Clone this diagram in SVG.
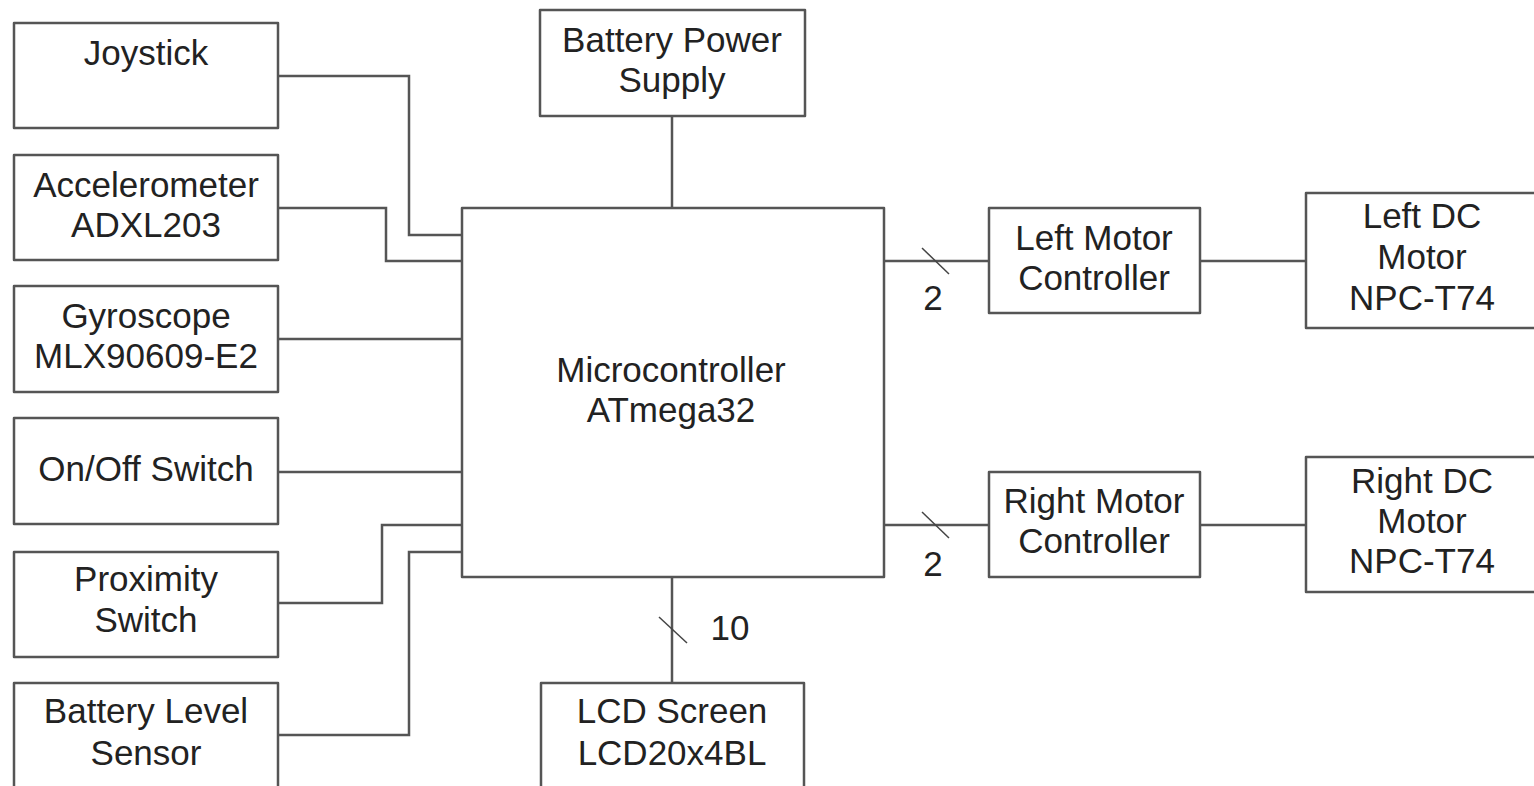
<svg xmlns="http://www.w3.org/2000/svg" width="1534" height="786" viewBox="0 0 1534 786">
<style>
.box{fill:#fff;stroke:#555;stroke-width:2.5;stroke-linejoin:round}
.wire{fill:none;stroke:#555;stroke-width:2.5;stroke-linejoin:miter}
.slash{stroke:#444;stroke-width:1.5}
text{font-family:"Liberation Sans",Arial,sans-serif;font-size:35px;fill:#222;text-anchor:middle}
</style>
<rect width="1534" height="786" fill="#fff"/>
<g id="connectors">
<polyline class="wire" points="278,76 409,76 409,235 462,235"/>
<polyline class="wire" points="278,208 386,208 386,261 462,261"/>
<line class="wire" x1="278" y1="339" x2="462" y2="339"/>
<line class="wire" x1="278" y1="472" x2="462" y2="472"/>
<polyline class="wire" points="278,603 382,603 382,525 462,525"/>
<polyline class="wire" points="278,735 409,735 409,552 462,552"/>
<line class="wire" x1="672" y1="116" x2="672" y2="208"/>
<line class="wire" x1="672" y1="577" x2="672" y2="683"/>
<line class="wire" x1="884" y1="261" x2="989" y2="261"/>
<line class="wire" x1="884" y1="525" x2="989" y2="525"/>
<line class="wire" x1="1200" y1="261" x2="1306" y2="261"/>
<line class="wire" x1="1200" y1="525" x2="1306" y2="525"/>
<line class="slash" x1="922" y1="248" x2="949" y2="274"/>
<line class="slash" x1="922" y1="512" x2="949" y2="538"/>
<line class="slash" x1="659" y1="617" x2="687" y2="643"/>
<text x="933" y="310">2</text>
<text x="933" y="576">2</text>
<text x="730" y="640">10</text>
</g>
<g id="joystick"><rect class="box" x="14" y="23" width="264" height="105"/><text x="146" y="65">Joystick</text></g>
<g id="accelerometer"><rect class="box" x="14" y="155" width="264" height="105"/><text x="146" y="197">Accelerometer</text><text x="146" y="237">ADXL203</text></g>
<g id="gyroscope"><rect class="box" x="14" y="286" width="264" height="106"/><text x="146" y="328">Gyroscope</text><text x="146" y="368">MLX90609-E2</text></g>
<g id="onoff"><rect class="box" x="14" y="418" width="264" height="106"/><text x="146" y="481">On/Off Switch</text></g>
<g id="proximity"><rect class="box" x="14" y="552" width="264" height="105"/><text x="146" y="591">Proximity</text><text x="146" y="632">Switch</text></g>
<g id="batterylevel"><rect class="box" x="14" y="683" width="264" height="120"/><text x="146" y="723">Battery Level</text><text x="146" y="765">Sensor</text></g>
<g id="batterypower"><rect class="box" x="540" y="10" width="265" height="106"/><text x="672" y="52">Battery Power</text><text x="672" y="92">Supply</text></g>
<g id="microcontroller"><rect class="box" x="462" y="208" width="422" height="369"/><text x="671" y="382">Microcontroller</text><text x="671" y="422">ATmega32</text></g>
<g id="lcd"><rect class="box" x="541" y="683" width="263" height="120"/><text x="672" y="723">LCD Screen</text><text x="672" y="765">LCD20x4BL</text></g>
<g id="leftmc"><rect class="box" x="989" y="208" width="211" height="105"/><text x="1094" y="250">Left Motor</text><text x="1094" y="290">Controller</text></g>
<g id="rightmc"><rect class="box" x="989" y="472" width="211" height="105"/><text x="1094" y="513">Right Motor</text><text x="1094" y="553">Controller</text></g>
<g id="leftdc"><rect class="box" x="1306" y="193" width="232" height="135"/><text x="1422" y="228">Left DC</text><text x="1422" y="269">Motor</text><text x="1422" y="310">NPC-T74</text></g>
<g id="rightdc"><rect class="box" x="1306" y="457" width="232" height="135"/><text x="1422" y="493">Right DC</text><text x="1422" y="533">Motor</text><text x="1422" y="573">NPC-T74</text></g>
</svg>
